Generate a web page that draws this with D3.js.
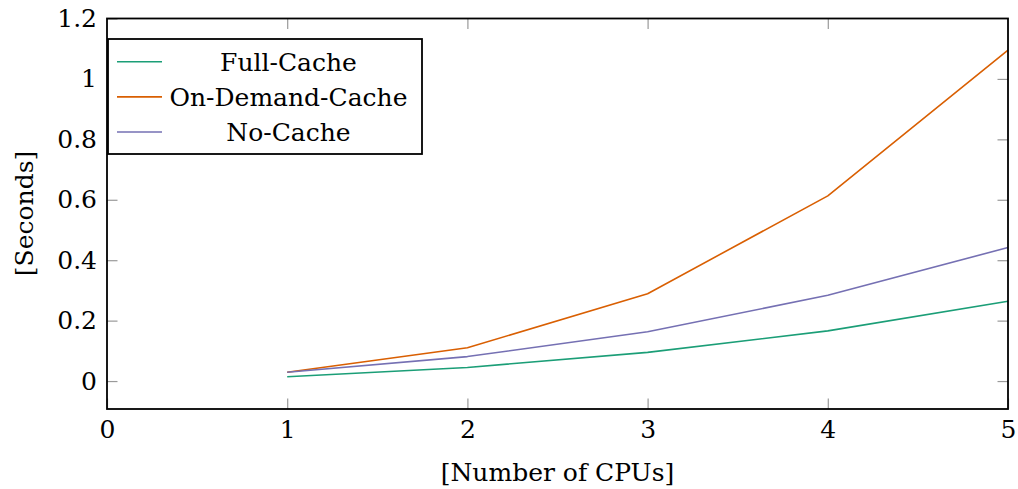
<!DOCTYPE html>
<html>
<head>
<meta charset="utf-8">
<script src="https://cdn.jsdelivr.net/npm/d3@7"></script>
<style>
  html, body { margin: 0; padding: 0; background: #fff; }
  svg { display: block; }
  text { font-family: "DejaVu Serif", serif; fill: #000; }
</style>
</head>
<body>
<svg id="chart" width="1018" height="489"></svg>
<script>
// Run-time data: seconds per number of CPUs
const cpus = [1, 2, 3, 4, 5];
const fullCache = [0.014, 0.045, 0.095, 0.166, 0.264];
const onDemandCache = [0.029, 0.110, 0.289, 0.613, 1.095];
const noCache = [0.029, 0.081, 0.163, 0.284, 0.442];

const seriesNames = ["Full-Cache", "On-Demand-Cache", "No-Cache"];
const seriesColors = ["#1b9e77", "#d95f02", "#7570b3"];
const xTicks = [0, 1, 2, 3, 4, 5];
const yTicks = [0, 0.2, 0.4, 0.6, 0.8, 1, 1.2];

const series = [fullCache, onDemandCache, noCache].map((vals, i) => ({
  name: seriesNames[i],
  color: seriesColors[i],
  points: cpus.map((c, j) => ({ x: c, y: vals[j] }))
}));

const svg = d3.select("#chart");
const m = { left: 107, right: 1008, top: 18.5, bottom: 409 };

const x = d3.scaleLinear().domain([0, 5]).range([m.left, m.right]);
const y = d3.scaleLinear().domain([-0.0925, 1.2]).range([m.bottom, m.top]);

const fontFamily = "DejaVu Serif";
const fontSize = 25;
const tickLen = 10.5;
const tickColor = "#9a9a9a";

// Inward ticks on all four sides
const g = svg.append("g");
const drawAxis = (axis, tx, ty) => {
  const a = g.append("g").attr("transform", `translate(${tx},${ty})`).call(axis);
  a.attr("font-family", fontFamily);
  a.select(".domain").remove();
  a.selectAll(".tick line").attr("stroke", tickColor).attr("stroke-width", 1.2);
  return a;
};

const bottomAxis = drawAxis(
  d3.axisBottom(x).tickValues(xTicks).tickSize(-tickLen).tickPadding(11).tickFormat(d3.format("d")),
  0, m.bottom);
bottomAxis.selectAll(".tick text").attr("font-size", fontSize);

drawAxis(d3.axisTop(x).tickValues(xTicks.filter(d => d > 0 && d < 5)).tickSize(-tickLen).tickFormat(""), 0, m.top);

const leftAxis = drawAxis(
  d3.axisLeft(y).tickValues(yTicks).tickSize(-tickLen).tickPadding(10).tickFormat(d => d3.format("")(+d.toFixed(1))),
  m.left, 0);
leftAxis.selectAll(".tick text").attr("font-size", fontSize);

drawAxis(d3.axisRight(y).tickValues(yTicks.filter(d => d < 1.2)).tickSize(-tickLen).tickFormat(""), m.right, 0);

// Data lines
const line = d3.line().x(d => x(d.x)).y(d => y(d.y));
svg.append("g").selectAll("path")
  .data(series)
  .join("path")
  .attr("d", d => line(d.points))
  .attr("fill", "none")
  .attr("stroke", d => d.color)
  .attr("stroke-width", 1.6)
  .attr("stroke-linejoin", "round");

// Plot frame
svg.append("rect")
  .attr("x", m.left).attr("y", m.top)
  .attr("width", m.right - m.left).attr("height", m.bottom - m.top)
  .attr("fill", "none").attr("stroke", "#000").attr("stroke-width", 1.8);

// Axis titles
svg.append("text")
  .attr("x", (m.left + m.right) / 2).attr("y", 481)
  .attr("text-anchor", "middle").attr("font-size", fontSize)
  .text("[Number of CPUs]");

svg.append("text")
  .attr("transform", `translate(33,${213.5}) rotate(-90)`)
  .attr("text-anchor", "middle").attr("font-size", fontSize)
  .text("[Seconds]");

// Legend
const legend = svg.append("g");
legend.append("rect")
  .attr("x", 108).attr("y", 39).attr("width", 314).attr("height", 115)
  .attr("fill", "#fff").attr("stroke", "#000").attr("stroke-width", 1.8);
const rowY = d3.scalePoint().domain(seriesNames).range([61.7, 132]);
const rows = legend.selectAll("g.row").data(series).join("g").attr("class", "row")
  .attr("transform", d => `translate(0,${rowY(d.name)})`);
rows.append("line")
  .attr("x1", 117).attr("x2", 162)
  .attr("stroke", d => d.color).attr("stroke-width", 1.6);
rows.append("text")
  .attr("x", 288.5).attr("y", 9)
  .attr("text-anchor", "middle").attr("font-size", fontSize)
  .text(d => d.name);
</script>
</body>
</html>
